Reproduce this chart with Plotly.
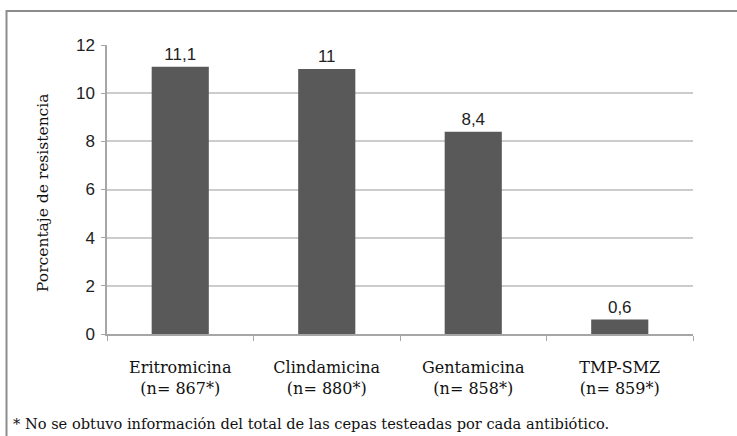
import plotly.graph_objects as go

categories = ["Eritromicina", "Clindamicina", "Gentamicina", "TMP-SMZ"]
n_labels = ["(n= 867*)", "(n= 880*)", "(n= 858*)", "(n= 859*)"]
values = [11.1, 11, 8.4, 0.6]
y_ticks = [0, 2, 4, 6, 8, 10, 12]
y_title = "Porcentaje de resistencia"
footnote = "* No se obtuvo información del total de las cepas testeadas por cada antibiótico."

W, H = 737, 436
L, R, T, B = 107, 44, 45, 102
pw, ph = W - L - R, H - T - B

def px_x(x):
    return (x - L) / pw

def px_y(y):
    return (H - B - y) / ph

serif = "DejaVu Serif"
sans = "Liberation Sans"

fig = go.Figure(go.Bar(
    x=categories,
    y=values,
    marker=dict(color="#595959", line=dict(width=0)),
    width=0.39,
    texttemplate="%{y}",
    textposition="outside",
    textfont=dict(family=sans, size=17, color="#222222"),
    cliponaxis=False,
))

fig.update_layout(
    width=W, height=H,
    margin=dict(l=L, r=R, t=T, b=B, autoexpand=False),
    paper_bgcolor="white", plot_bgcolor="white",
    separators=",.",
    showlegend=False,
    xaxis=dict(
        tickmode="array", tickvals=categories,
        ticktext=[f"{c}<br>{n}" for c, n in zip(categories, n_labels)],
        tickfont=dict(family=serif, size=16, color="#111111"),
        showgrid=False, showline=True, linecolor="#a6a6a6", linewidth=1.5,
        ticks="outside", tickson="boundaries", ticklen=5, tickcolor="#a6a6a6",
        ticklabelstandoff=18, automargin=False,
    ),
    yaxis=dict(
        range=[0, 12], tickvals=y_ticks,
        tickfont=dict(family=sans, size=17, color="#222222"),
        showgrid=True, gridcolor="#cccccc", gridwidth=1.5,
        showline=True, linecolor="#a6a6a6", linewidth=1.5,
        ticks="outside", ticklen=4, tickcolor="#a6a6a6",
        ticklabelstandoff=3,
        zeroline=False, automargin=False,
    ),
    shapes=[dict(
        type="path", xref="paper", yref="paper",
        path=f"M {px_x(6.5)} {px_y(440)} L {px_x(6.5)} {px_y(11)} L {px_x(745)} {px_y(11)}",
        line=dict(color="#8c8c8c", width=2),
    )],
    annotations=[
        dict(
            text=footnote, xref="paper", yref="paper",
            x=px_x(11), y=px_y(424), xanchor="left", yanchor="middle",
            showarrow=False, font=dict(family=serif, size=14.6, color="#111111"),
        ),
        dict(
            text=y_title, xref="paper", yref="paper", textangle=-90,
            x=px_x(43), y=px_y(193), xanchor="center", yanchor="middle",
            showarrow=False, font=dict(family=serif, size=15.5, color="#111111"),
        ),
    ],
)

fig.write_html("out.html", config={"displayModeBar": False},
               post_script="document.body.style.margin='0px';")
